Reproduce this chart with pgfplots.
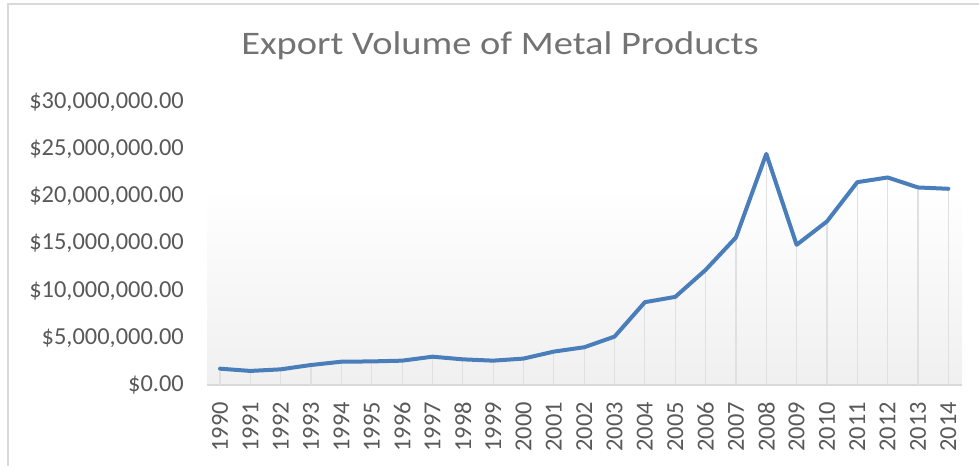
\documentclass[border=0pt]{standalone}
\usepackage{pgfplots}
\pgfplotsset{compat=1.18}
\usepackage{fontspec}
\setmainfont{Carlito}

\definecolor{lineblue}{HTML}{4A7EBB}
\definecolor{ticktext}{HTML}{595959}
\definecolor{titletext}{HTML}{737373}
\definecolor{frame}{HTML}{D9D9D9}
\definecolor{dropline}{HTML}{E0E0E0}

\begin{document}
\begin{tikzpicture}
\useasboundingbox (0,0) rectangle (979bp,466bp);
% chart frame (only top and left visible in the crop)
\draw[frame, line width=2bp] (8bp,0) -- (8bp,462bp) -- (979bp,462bp);

\begin{axis}[
    at={(207bp,81bp)}, anchor=south west,
    scale only axis,
    width=755bp, height=283bp,
    xmin=-0.43, xmax=24.45,
    ymin=0, ymax=30000000,
    axis line style={draw=none},
    xtick={0,1,...,24},
    xticklabels={1990,1991,1992,1993,1994,1995,1996,1997,1998,1999,2000,2001,2002,2003,2004,2005,2006,2007,2008,2009,2010,2011,2012,2013,2014},
    ytick={0,5000000,10000000,15000000,20000000,25000000,30000000},
    yticklabels={{\$0.00},{\$5,000,000.00},{\$10,000,000.00},{\$15,000,000.00},{\$20,000,000.00},{\$25,000,000.00},{\$30,000,000.00}},
    scaled y ticks=false,
    major tick length=0pt,
    tick style={draw=none},
    tick label style={inner sep=0pt, text=ticktext, font=\fontsize{24.5}{29}\selectfont},
    xticklabel style={rotate=90, anchor=east},
    yticklabel style={anchor=east},
    xticklabel shift=17bp,
    yticklabel shift=23bp,
    clip=false,
]
% soft gradient backdrop behind the lower part of the plot area
\addplot[draw=none, top color=white, bottom color=black!6, forget plot]
    coordinates {(-0.43,0) (-0.43,21000000) (24.45,21000000) (24.45,0)} \closedcycle;
% baseline
\addplot[frame, line width=1.5bp, forget plot] coordinates {(-0.43,0) (24.45,0)};
% drop lines
\addplot[ycomb, dropline, line width=1.2bp, forget plot] table {
x y
0 1730000
1 1490000
2 1660000
3 2120000
4 2470000
5 2500000
6 2580000
7 3000000
8 2720000
9 2580000
10 2800000
11 3540000
12 4000000
13 5130000
14 8780000
15 9340000
16 12200000
17 15640000
18 24500000
19 14860000
20 17340000
21 21500000
22 22000000
23 20940000
24 20800000
};
% export volume
\addplot[lineblue, line width=4bp, line join=round, line cap=round] table {
x y
0 1730000
1 1490000
2 1660000
3 2120000
4 2470000
5 2500000
6 2580000
7 3000000
8 2720000
9 2580000
10 2800000
11 3540000
12 4000000
13 5130000
14 8780000
15 9340000
16 12200000
17 15640000
18 24500000
19 14860000
20 17340000
21 21500000
22 22000000
23 20940000
24 20800000
};
\end{axis}

\node[anchor=base, inner sep=0pt, text=titletext, xscale=1.17, font=\fontsize{33}{40}\selectfont]
    at (500bp,411bp) {Export Volume of Metal Products};
\end{tikzpicture}
\end{document}
